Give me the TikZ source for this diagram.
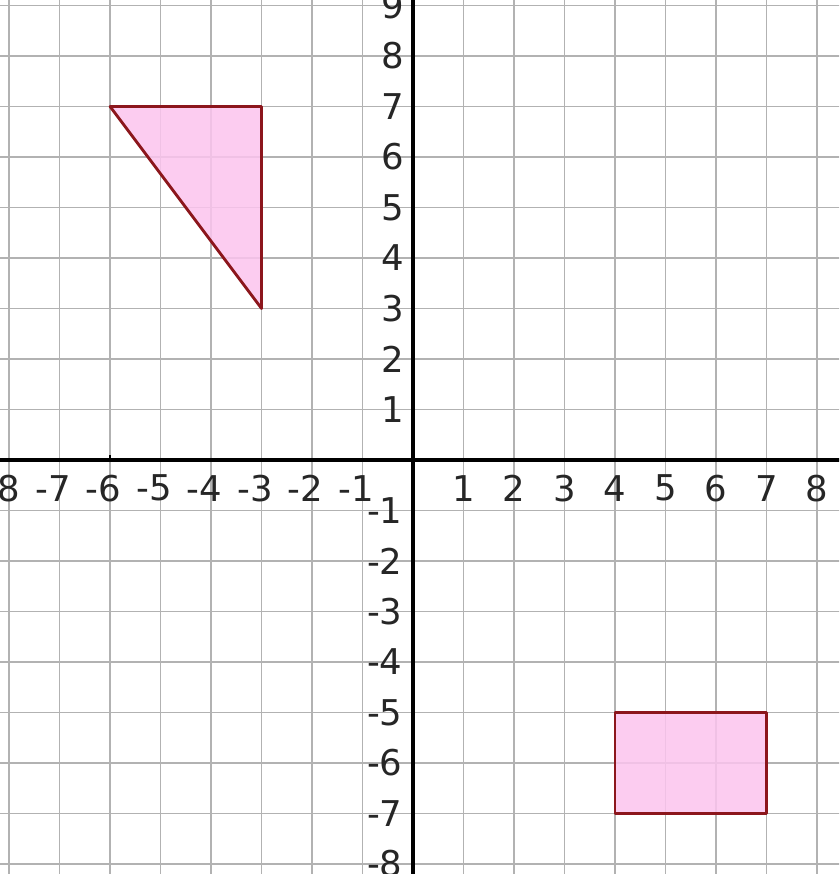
\documentclass[tikz,border=0pt]{standalone}
\usepackage{fontspec}
\setmainfont{DejaVu Sans}
\definecolor{shapefill}{RGB}{252,196,238}
\definecolor{shapeline}{RGB}{140,22,28}
\definecolor{gridgray}{RGB}{178,178,178}
\tikzset{
  gridline/.style={draw=gridgray,line width=0.9pt},
  axisline/.style={draw=black,line width=2pt},
  figure/.style={draw=shapeline,fill=shapefill,fill opacity=0.85,line width=1.6pt,line join=round},
  ticklabel/.style={inner sep=0pt,font=\fontsize{20}{24}\selectfont,text=black!85}
}
\begin{document}
\begin{tikzpicture}[x=1cm,y=1cm]
  % frame of the picture
  \clip (-8.18,-8.2) rectangle (8.44,9.11);
  \path[fill=white] (-8.18,-8.2) rectangle (8.44,9.11);

  % grid
  \path[gridline] (-9,-9) grid (9,10);

  % figures
  \path[figure] (-6,7) -- (-3,7) -- (-3,3) -- cycle;
  \path[figure] (4,-5) rectangle (7,-7);

  % axes
  \path[axisline] (-9,0) -- (9,0);
  \path[axisline] (0,-9) -- (0,10);
  \path[draw=black,line width=1.2pt] (-6,0) -- (-6,0.1);

  % labels on the x axis
  \foreach \x in {1,...,8}
    \node[ticklabel] (xp\x) at (\x,-0.56) {\x};
  \foreach \x in {1,...,8}
    \node[ticklabel] (xn\x) at (-\x,-0.56) {\llap{-}\x};

  % labels on the y axis
  \foreach \y in {1,...,9}
    \node[ticklabel,anchor=east] (yp\y) at (-0.17,\y) {\y};
  \foreach \y in {1,...,8}
    \node[ticklabel,anchor=east] (yn\y) at (-0.2,-\y) {-\y};
\end{tikzpicture}
\end{document}
